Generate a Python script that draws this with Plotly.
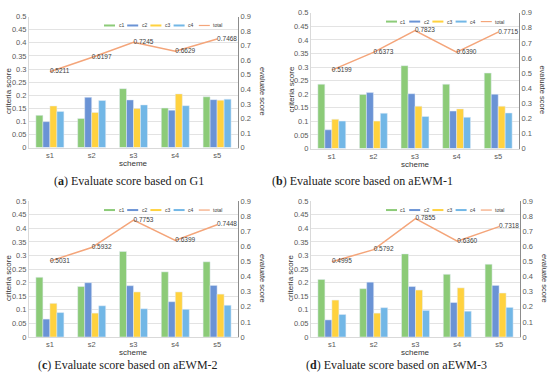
import plotly.graph_objects as go

W, H = 550, 384

schemes = ["s1", "s2", "s3", "s4", "s5"]
criteria = ["c1", "c2", "c3", "c4"]

# panel a: G1
a_c1 = [0.123, 0.111, 0.225, 0.151, 0.194]
a_c2 = [0.099, 0.192, 0.182, 0.143, 0.183]
a_c3 = [0.159, 0.134, 0.149, 0.205, 0.181]
a_c4 = [0.138, 0.180, 0.163, 0.160, 0.185]
a_total = [0.5211, 0.6197, 0.7245, 0.6629, 0.7468]

# panel b: aEWM-1
b_c1 = [0.237, 0.199, 0.305, 0.237, 0.278]
b_c2 = [0.069, 0.206, 0.202, 0.138, 0.200]
b_c3 = [0.108, 0.101, 0.156, 0.146, 0.156]
b_c4 = [0.101, 0.130, 0.118, 0.115, 0.131]
b_total = [0.5199, 0.6373, 0.7823, 0.6390, 0.7715]

# panel c: aEWM-2
c_c1 = [0.220, 0.186, 0.315, 0.240, 0.277]
c_c2 = [0.066, 0.200, 0.189, 0.130, 0.190]
c_c3 = [0.124, 0.088, 0.166, 0.166, 0.158]
c_c4 = [0.090, 0.115, 0.104, 0.102, 0.117]
c_total = [0.5031, 0.5932, 0.7753, 0.6399, 0.7448]

# panel d: aEWM-3
d_c1 = [0.212, 0.178, 0.306, 0.231, 0.268]
d_c2 = [0.063, 0.202, 0.186, 0.127, 0.190]
d_c3 = [0.136, 0.088, 0.173, 0.181, 0.162]
d_c4 = [0.083, 0.108, 0.098, 0.095, 0.109]
d_total = [0.4995, 0.5792, 0.7855, 0.6360, 0.7318]

captions = [
    "(<b>a</b>) Evaluate score based on G1",
    "(<b>b</b>) Evaluate score based on aEWM-1",
    "(<b>c</b>) Evaluate score based on aEWM-2",
    "(<b>d</b>) Evaluate score based on aEWM-3",
]
left_ticks = [0, 0.05, 0.1, 0.15, 0.2, 0.25, 0.3, 0.35, 0.4, 0.45, 0.5]
left_tick_text = ["0", "0.05", "0.1", "0.15", "0.2", "0.25", "0.3", "0.35", "0.4", "0.45", "0.5"]
right_ticks = [0, 0.1, 0.2, 0.3, 0.4, 0.5, 0.6, 0.7, 0.8, 0.9]
right_tick_text = ["0", "0.1", "0.2", "0.3", "0.4", "0.5", "0.6", "0.7", "0.8", "0.9"]

colors = ["#8CCB78", "#6A93D5", "#FFD23F", "#72B7E6"]
line_color = "#F4A57A"
tick_color = "#595959"
FONT = "Liberation Sans"

panels = [
    dict(bars=[a_c1, a_c2, a_c3, a_c4], total=a_total, px=(29, 238), py=(13, 147), cap=(129, 181)),
    dict(bars=[b_c1, b_c2, b_c3, b_c4], total=b_total, px=(311, 519), py=(9, 148), cap=(362, 181)),
    dict(bars=[c_c1, c_c2, c_c3, c_c4], total=c_total, px=(29, 238), py=(202, 341), cap=(128, 370)),
    dict(bars=[d_c1, d_c2, d_c3, d_c4], total=d_total, px=(311, 520), py=(202, 341), cap=(396, 370)),
]

fig = go.Figure()
layout = dict(
    width=W, height=H, margin=dict(l=0, r=0, t=0, b=0),
    paper_bgcolor="white", plot_bgcolor="white",
    barmode="group", bargap=0.33, bargroupgap=0.0,
    showlegend=False, font=dict(family=FONT, color=tick_color),
)
shapes = []
annotations = []

def fx(p):
    return p / W

def fy(p):
    return 1 - p / H

for i, p in enumerate(panels):
    n = i + 1
    xa = "x" if n == 1 else f"x{n}"
    yl_id = 2 * i + 1
    yr_id = 2 * i + 2
    yl = "y" if yl_id == 1 else f"y{yl_id}"
    yr = f"y{yr_id}"
    x0, x1 = p["px"]
    y0, y1 = p["py"]
    for k, vals in enumerate(p["bars"]):
        fig.add_trace(go.Bar(x=schemes, y=vals, name=criteria[k], marker_color=colors[k],
                             xaxis=xa, yaxis=yl, offsetgroup=str(k)))
    fig.add_trace(go.Scatter(x=schemes, y=p["total"], mode="lines+text", name="total",
                             line=dict(color=line_color, width=1.5),
                             text=[f"{v:.4f}" for v in p["total"]],
                             textposition="middle right",
                             textfont=dict(size=6.5, color="#404040", family=FONT),
                             xaxis=xa, yaxis=yr, cliponaxis=False))
    xkey = "xaxis" if n == 1 else f"xaxis{n}"
    ylkey = "yaxis" if yl_id == 1 else f"yaxis{yl_id}"
    yrkey = f"yaxis{yr_id}"
    layout[xkey] = dict(domain=[fx(x0), fx(x1)], anchor=yl, showgrid=False,
                        showline=True, linecolor="#D9D9D9", linewidth=1,
                        tickfont=dict(size=7.5, color=tick_color), ticks="",
                        zeroline=False)
    layout[ylkey] = dict(domain=[fy(y1), fy(y0)], anchor=xa, range=[0, 0.5],
                         tickvals=left_ticks, ticktext=left_tick_text,
                         showgrid=True, gridcolor="#E3E3E3", gridwidth=1,
                         showline=True, linecolor="#D9D9D9", linewidth=1,
                         tickfont=dict(size=7.5, color=tick_color), ticks="",
                         zeroline=False)
    layout[yrkey] = dict(domain=[fy(y1), fy(y0)], anchor=xa, overlaying=yl, side="right",
                         range=[0, 0.9], tickvals=right_ticks, ticktext=right_tick_text,
                         showgrid=False, showline=True, linecolor="#8C8C8C", linewidth=1,
                         tickfont=dict(size=7.5, color=tick_color), ticks="",
                         zeroline=False)
    # axis titles
    annotations.append(dict(text="criteria score", x=fx(x0 - 20), y=fy((y0 + y1) / 2 + 9),
                            xref="paper", yref="paper", xanchor="center", yanchor="middle",
                            textangle=-90, showarrow=False,
                            font=dict(size=8, color="#333333", family=FONT)))
    annotations.append(dict(text="evaluate score", x=fx(x1 + 24), y=fy((y0 + y1) / 2 + 9),
                            xref="paper", yref="paper", xanchor="center", yanchor="middle",
                            textangle=90, showarrow=False,
                            font=dict(size=7.5, color="#333333", family=FONT)))
    annotations.append(dict(text="scheme", x=fx((x0 + x1) / 2), y=fy(y1 + 16),
                            xref="paper", yref="paper", xanchor="center", yanchor="middle",
                            showarrow=False, font=dict(size=8, color="#333333", family=FONT)))
    # caption
    cx, cy = p["cap"]
    annotations.append(dict(text=captions[i], x=fx(cx), y=fy(cy), xref="paper", yref="paper",
                            xanchor="center", yanchor="middle", showarrow=False,
                            font=dict(size=12, color="#222222", family="Liberation Serif")))
    # legend (manual)
    ly = y0 + 9
    names = criteria + ["total"]
    cols = colors + [line_color]
    for k in range(5):
        sx = x0 + 75 + k * 23.2
        if k == 4:
            sx += 2
        shapes.append(dict(type="line", xref="paper", yref="paper",
                           x0=fx(sx), x1=fx(sx + 11), y0=fy(ly), y1=fy(ly),
                           line=dict(color=cols[k], width=2 if k < 4 else 1.2)))
        annotations.append(dict(text=names[k], x=fx(sx + 12.5), y=fy(ly), xref="paper", yref="paper",
                                xanchor="left", yanchor="middle", showarrow=False,
                                font=dict(size=5, color="#404040", family=FONT)))

layout["shapes"] = shapes
layout["annotations"] = annotations
fig.update_layout(**layout)
fig.write_html("out.html", config={"displayModeBar": False},
               post_script="document.body.style.margin='0';document.body.style.overflow='hidden';")
